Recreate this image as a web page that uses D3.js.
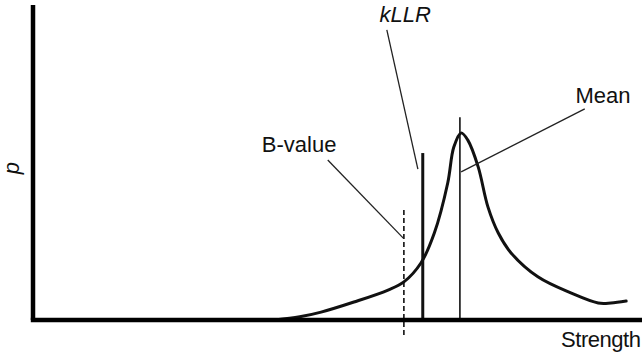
<!DOCTYPE html>
<html>
<head>
<meta charset="utf-8">
<script src="https://cdn.jsdelivr.net/npm/d3@7"></script>
<style>
  html, body { margin: 0; padding: 0; background: #fff; }
  svg { display: block; }
  text { font-family: "Liberation Sans", Arial, sans-serif; fill: #111; }
  .lbl { font-size: 22px; }
  .ital { font-style: italic; }
</style>
</head>
<body>
<div id="chart"></div>
<script>
// density curve, strength (0-100) vs p (0-100)
let curve_x = [39.7, 43.8, 47.3, 52.7, 58.3, 60.9, 63.7, 65.9, 68.1, 69.1, 70.3, 71.4, 73.1, 74.7, 76.4, 78.5, 82.9, 88.3, 92.8, 94.9, 97.4];
let curve_y = [0, 1.0, 2.5, 5.7, 9.5, 12.1, 18.1, 27.6, 43.5, 54.9, 59.4, 57.1, 48.6, 35.9, 27.6, 21.3, 13.7, 8.6, 5.4, 5.4, 6.0];

// vertical markers
let marker_names = ["B-value", "kLLR", "Mean"];
let marker_x = [60.9, 64.0, 70.1];
let marker_top = [34.9, 53.0, 64.4];
let marker_bottom = [-4.8, 0, 0];

// labels and their leader lines
let label_x = [43.7, 61.1, 93.6];
let label_y = [53.3, 94.6, 68.9];
let leader_from_x = [48.4, 58.1, 90.6];
let leader_from_y = [50.8, 92.1, 67.0];
let leader_to_x = [60.8, 63.2, 70.3];
let leader_to_y = [26.0, 47.9, 47.0];

function renderChart(){
    let total_width = 642;
    let total_height = 353;

    let x = d3.scaleLinear().domain([0, 100]).range([33, 642]);
    let y = d3.scaleLinear().domain([0, 100]).range([320, 5]);

    let svg = d3.select("#chart").append("svg")
        .attr("width", total_width)
        .attr("height", total_height);

    let data = curve_x.map((v, i) => ({x: v, y: curve_y[i]}));

    // curve
    svg.append("path")
        .datum(data)
        .attr("fill", "none")
        .attr("stroke", "#111")
        .attr("stroke-width", 3)
        .attr("stroke-linejoin", "round")
        .attr("stroke-linecap", "round")
        .attr("d", d3.line().x(d => x(d.x)).y(d => y(d.y)).curve(d3.curveCatmullRom.alpha(0.5)));

    // markers
    let widths = [1.6, 3, 1.6];
    let dashes = ["5,3", null, null];
    marker_names.forEach((name, i) => {
        svg.append("line")
            .attr("x1", x(marker_x[i])).attr("x2", x(marker_x[i]))
            .attr("y1", y(marker_top[i])).attr("y2", y(marker_bottom[i]))
            .attr("stroke", "#111")
            .attr("stroke-width", widths[i])
            .attr("stroke-dasharray", dashes[i]);
    });

    // axes (plain thick lines, no ticks)
    let xAxis = d3.axisBottom(x).tickValues([]).tickSizeOuter(0);
    let yAxis = d3.axisLeft(y).tickValues([]).tickSizeOuter(0);
    svg.append("g").attr("transform", "translate(0," + y(0) + ")").call(xAxis)
        .select(".domain").attr("stroke", "#000").attr("stroke-width", 4.5).attr("d", "M" + (x(0) - 2.2) + ",0H" + x(100));
    svg.append("g").attr("transform", "translate(" + x(0) + ",0)").call(yAxis)
        .select(".domain").attr("stroke", "#000").attr("stroke-width", 4.5).attr("d", "M0," + y(100) + "V" + y(0));

    // leader lines
    marker_names.forEach((name, i) => {
        svg.append("line")
            .attr("x1", x(leader_from_x[i])).attr("y1", y(leader_from_y[i]))
            .attr("x2", x(leader_to_x[i])).attr("y2", y(leader_to_y[i]))
            .attr("stroke", "#222")
            .attr("stroke-width", 1.3);
    });

    // labels
    marker_names.forEach((name, i) => {
        svg.append("text")
            .attr("class", "lbl" + (name == "kLLR" ? " ital" : ""))
            .attr("x", x(label_x[i]))
            .attr("y", y(label_y[i]))
            .attr("text-anchor", "middle")
            .text(name);
    });

    svg.append("text")
        .attr("class", "lbl")
        .attr("x", 641)
        .attr("y", 347)
        .attr("text-anchor", "end")
        .attr("textLength", 80)
        .text("Strength");

    svg.append("text")
        .attr("class", "lbl ital")
        .attr("transform", "translate(19,168) rotate(-90)")
        .attr("text-anchor", "middle")
        .text("p");
}

renderChart();
</script>
</body>
</html>
